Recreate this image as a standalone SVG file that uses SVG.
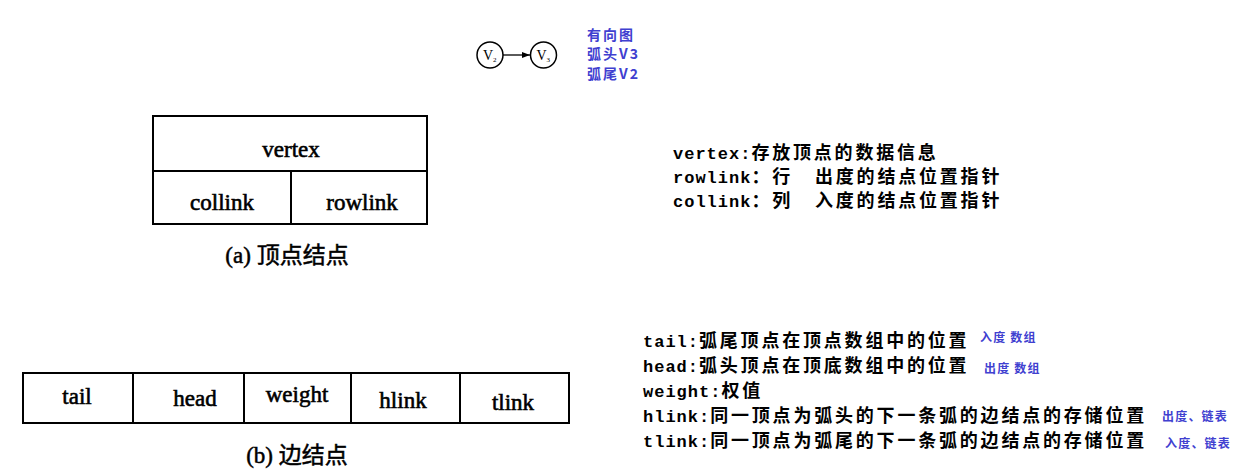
<svg xmlns="http://www.w3.org/2000/svg" width="1259" height="470" viewBox="0 0 1259 470">
<style>
.box{fill:none;stroke:#000;stroke-width:2}
.ser{font-family:"Liberation Serif","Noto Sans CJK SC",serif;font-size:23px;fill:#000;stroke:#000;stroke-width:0.6;text-anchor:middle}
.cap{font-family:"Liberation Serif","Noto Sans CJK SC",serif;font-size:23px;fill:#000;stroke:#000;stroke-width:0.5;text-anchor:middle}
.desc{font-family:"Liberation Mono","Noto Sans CJK SC",monospace;font-size:17px;font-weight:bold;fill:#000}
.lat{letter-spacing:1px}
.cjk{font-family:"Noto Sans CJK SC",sans-serif;font-size:18px;letter-spacing:2.8px}
.blue{font-family:"Noto Sans CJK SC","Liberation Sans",sans-serif;font-weight:bold;fill:#4040d0}
.sm{font-size:12px;letter-spacing:1.2px}
.md{font-size:14px;letter-spacing:2px}
.node{fill:#fff;stroke:#000;stroke-width:1.5}
.vl{font-family:"Liberation Serif",serif;font-size:14px;fill:#000}
.sub{font-family:"Liberation Serif",serif;font-size:7px;fill:#000}
</style>
<defs>
<marker id="ah" markerWidth="8" markerHeight="6" refX="8" refY="3" orient="auto" markerUnits="userSpaceOnUse">
<path d="M0,0 L8,3 L0,6 Z" fill="#000"/>
</marker>
</defs>
<rect width="1259" height="470" fill="#fff"/>

<g id="edges">
<line x1="503" y1="55" x2="530" y2="55" stroke="#000" stroke-width="1.3" marker-end="url(#ah)"/>
</g>

<g id="v2">
<circle class="node" cx="490" cy="55" r="13"/>
<text class="vl" x="483" y="60">V</text><text class="sub" x="493" y="62">2</text>
</g>
<g id="v3">
<circle class="node" cx="543.5" cy="55" r="13"/>
<text class="vl" x="536.5" y="60">V</text><text class="sub" x="546.5" y="62">3</text>
</g>

<g id="legend-top">
<text class="blue md" x="587" y="40">有向图</text>
<text class="blue md" x="587" y="59">弧头V3</text>
<text class="blue md" x="587" y="79">弧尾V2</text>
</g>

<g id="vertex-node">
<rect class="box" x="153" y="116" width="274" height="108"/>
<line class="box" x1="153" y1="171" x2="427" y2="171"/>
<line class="box" x1="291" y1="171" x2="291" y2="224"/>
<text class="ser" x="291" y="157">vertex</text>
<text class="ser" x="222" y="210">collink</text>
<text class="ser" x="362" y="210">rowlink</text>
<text class="cap" x="287" y="263">(a) 顶点结点</text>
</g>

<g id="vertex-desc">
<text class="desc" x="673" y="159"><tspan class="lat">vertex:</tspan><tspan class="cjk">存放顶点的数据信息</tspan></text>
<text class="desc" x="673" y="183"><tspan class="lat">rowlink</tspan><tspan class="cjk">：行</tspan><tspan class="cjk" x="815">出度的结点位置指针</tspan></text>
<text class="desc" x="673" y="207"><tspan class="lat">collink</tspan><tspan class="cjk">：列</tspan><tspan class="cjk" x="815">入度的结点位置指针</tspan></text>
</g>

<g id="edge-node">
<rect class="box" x="23" y="373" width="546" height="50"/>
<line class="box" x1="133" y1="373" x2="133" y2="423"/>
<line class="box" x1="244" y1="373" x2="244" y2="423"/>
<line class="box" x1="351" y1="373" x2="351" y2="423"/>
<line class="box" x1="460" y1="373" x2="460" y2="423"/>
<text class="ser" x="77" y="404">tail</text>
<text class="ser" x="195" y="406">head</text>
<text class="ser" x="297" y="402">weight</text>
<text class="ser" x="403" y="408">hlink</text>
<text class="ser" x="513" y="410">tlink</text>
<text class="cap" x="297" y="463">(b) 边结点</text>
</g>

<g id="edge-desc">
<text class="desc" x="643" y="347"><tspan class="lat">tail:</tspan><tspan class="cjk">弧尾顶点在顶点数组中的位置</tspan></text>
<text class="desc" x="643" y="372"><tspan class="lat">head:</tspan><tspan class="cjk">弧头顶点在顶底数组中的位置</tspan></text>
<text class="desc" x="643" y="397"><tspan class="lat">weight:</tspan><tspan class="cjk">权值</tspan></text>
<text class="desc" x="643" y="422"><tspan class="lat">hlink:</tspan><tspan class="cjk">同一顶点为弧头的下一条弧的边结点的存储位置</tspan></text>
<text class="desc" x="643" y="447"><tspan class="lat">tlink:</tspan><tspan class="cjk">同一顶点为弧尾的下一条弧的边结点的存储位置</tspan></text>
<text class="blue sm" x="980" y="342">入度 数组</text>
<text class="blue sm" x="984" y="373">出度 数组</text>
<text class="blue sm" x="1162" y="421">出度、链表</text>
<text class="blue sm" x="1165" y="448">入度、链表</text>
</g>
</svg>
